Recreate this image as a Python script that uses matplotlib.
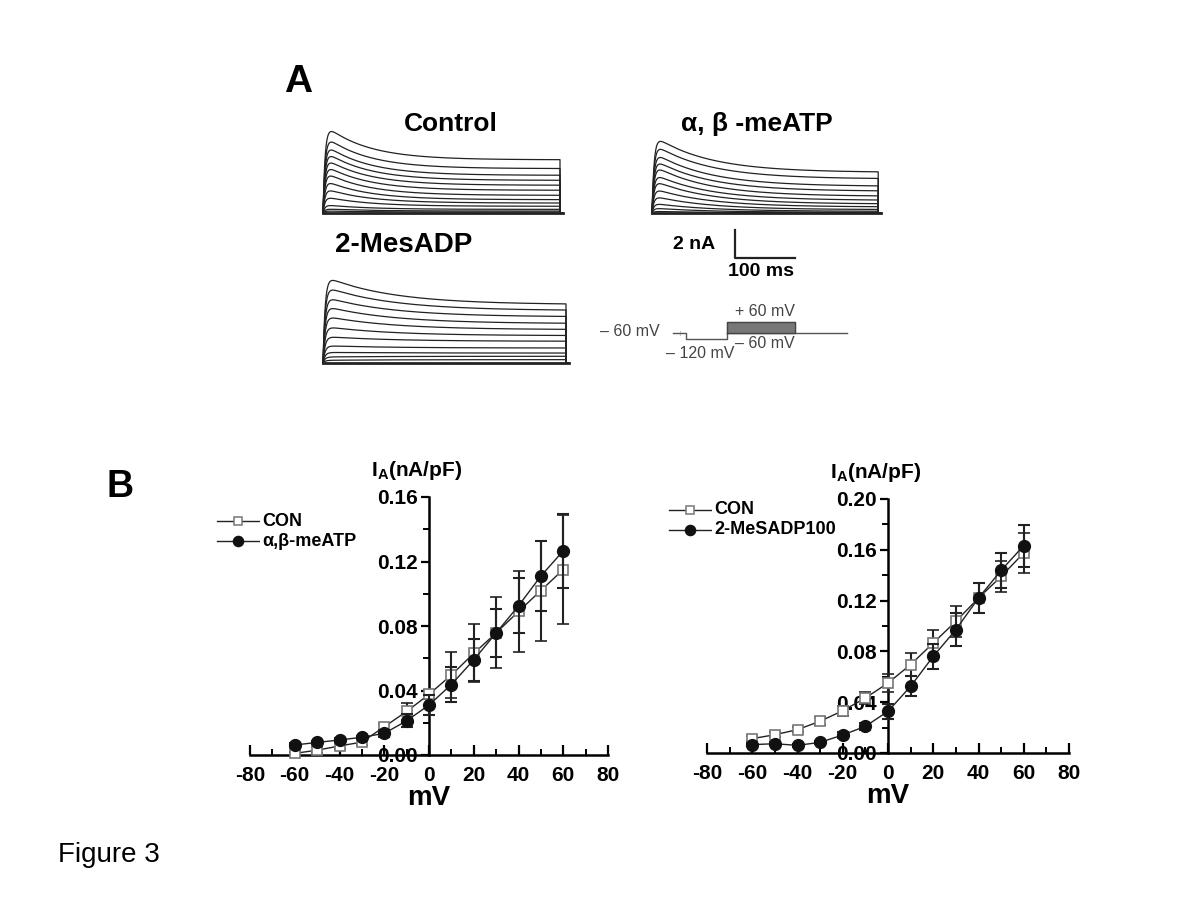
import numpy as np
import matplotlib
matplotlib.use("Agg")
import matplotlib.pyplot as plt
from matplotlib.ticker import MultipleLocator, FormatStrFormatter

plt.rcParams['font.family'] = ['Liberation Sans', 'DejaVu Sans']
plt.rcParams['axes.unicode_minus'] = False

# ---------------- Data ----------------
# Panel A: peak and steady-state amplitudes (nA) of each current trace
ctrl_peak = [6.4, 5.6, 5.0, 4.5, 4.0, 3.5, 3.0, 2.4, 1.8, 1.2, 0.6, 0.3, 0.15]
ctrl_steady = [3.8, 3.17, 2.69, 2.33, 1.98, 1.62, 1.26, 0.95, 0.71, 0.48, 0.26, 0.14, 0.07]
meatp_peak = [5.6, 5.0, 4.4, 3.9, 3.45, 2.86, 2.38, 1.79, 1.24, 0.71, 0.36, 0.12]
meatp_steady = [2.9, 2.43, 1.9, 1.55, 1.19, 0.9, 0.64, 0.43, 0.24, 0.12, 0.05, 0.02]
mesadp_peak = [6.24, 5.5, 4.76, 4.1, 3.38, 2.62, 1.9, 1.24, 0.76, 0.43, 0.19]
mesadp_steady = [4.17, 3.74, 3.29, 2.81, 2.38, 1.95, 1.55, 1.07, 0.71, 0.48, 0.24]

# Voltage protocol (ms, mV)
prot_t = [0, 19, 19, 80, 80, 258]
prot_v = [-60, -60, -120, -120, -60, -60]
step_t = [80, 180]
step_levels = [-60, -50, -40, -30, -20, -10, 0, 10, 20, 30, 40, 50, 60]

# Panel B: I-V data
mv = [-60, -50, -40, -30, -20, -10, 0, 10, 20, 30, 40, 50, 60]
con1 = [0.001, 0.003, 0.0056, 0.008, 0.0175, 0.027, 0.0376, 0.0496, 0.063, 0.0757, 0.089, 0.102, 0.115]
con1_err = [0.001, 0.002, 0.002, 0.002, 0.002, 0.005, 0.003, 0.0145, 0.018, 0.022, 0.025, 0.031, 0.034]
meatp = [0.0062, 0.0078, 0.0093, 0.011, 0.0134, 0.0212, 0.031, 0.0437, 0.059, 0.0757, 0.0925, 0.111, 0.1266]
meatp_err = [0.001, 0.001, 0.001, 0.001, 0.002, 0.004, 0.006, 0.011, 0.013, 0.015, 0.017, 0.022, 0.023]

con2 = [0.0113, 0.0144, 0.0184, 0.025, 0.0333, 0.0433, 0.0551, 0.0696, 0.0866, 0.1037, 0.122, 0.139, 0.1575]
con2_err = [0.002, 0.002, 0.002, 0.003, 0.004, 0.005, 0.007, 0.009, 0.010, 0.012, 0.012, 0.012, 0.016]
mesadp = [0.0066, 0.0073, 0.006, 0.0084, 0.0142, 0.021, 0.0328, 0.0525, 0.0761, 0.0971, 0.122, 0.1438, 0.1633]
mesadp_err = [0.001, 0.001, 0.001, 0.001, 0.002, 0.003, 0.006, 0.008, 0.010, 0.013, 0.012, 0.014, 0.0165]

W, H = 1200, 900
fig = plt.figure(figsize=(12, 9), dpi=100)


def ax_px(x0, y0, x1, y1):
    return fig.add_axes([x0 / W, 1 - y1 / H, (x1 - x0) / W, (y1 - y0) / H])


def ftext(x, y, s, **kw):
    fig.text(x / W, 1 - y / H, s, **kw)


PX_PER_MS = 0.6
PX_PER_NA = 14.0


def trace_panel(x_start, y_base, dur, peaks, steadies, tau):
    left, right = x_start - 6, x_start + dur * PX_PER_MS + 12
    top, bottom = y_base - 100, y_base + 8
    ax = ax_px(left, top, right, bottom)
    ax.set_xlim(-(x_start - left) / PX_PER_MS, (right - x_start) / PX_PER_MS)
    ax.set_ylim(-(bottom - y_base) / PX_PER_NA, (y_base - top) / PX_PER_NA)
    ax.axis('off')
    t = np.linspace(0, dur, 600)
    for pk, ss in zip(peaks, steadies):
        rise = 1 - np.exp(-t / 3.5)
        i = (ss + (pk - ss) * np.exp(-t / tau)) * rise
        tt = np.concatenate([[0], t, [dur, dur + 4]])
        ii = np.concatenate([[0], i, [0, 0]])
        ax.plot(tt, ii, color='#222222', lw=0.9)
    ax.plot([0, dur + 5], [0, 0], color='#222222', lw=2.0)
    return ax


# Panel A traces
trace_panel(323, 213, 395, ctrl_peak, ctrl_steady, 70)
trace_panel(652, 213, 377, meatp_peak, meatp_steady, 90)
trace_panel(323, 363, 405, mesadp_peak, mesadp_steady, 110)

ftext(298, 82, 'A', fontsize=28, fontweight='bold', ha='center', va='center')
ftext(451, 124, 'Control', fontsize=19, fontweight='bold', ha='center', va='center')
ftext(757, 124, 'α, β -meATP', fontsize=19, fontweight='bold', ha='center', va='center')
ftext(404, 245, '2-MesADP', fontsize=20, fontweight='bold', ha='center', va='center')

# Scale bar
sb = ax_px(690, 220, 820, 285)
sb.set_xlim(690, 820)
sb.set_ylim(285, 220)
sb.axis('off')
sb.plot([735, 735, 795], [230, 258, 258], color='#222222', lw=1.6)
ftext(694, 245, '2 nA', fontsize=14, fontweight='bold', ha='center', va='center')
ftext(761, 272, '100 ms', fontsize=14, fontweight='bold', ha='center', va='center')

# Voltage protocol
pax = ax_px(660, 305, 860, 360)
PX_PER_MS_P = 0.675
pax.set_xlim(-(673 - 660) / PX_PER_MS_P, (860 - 673) / PX_PER_MS_P)
pax.set_ylim(-60 - (360 - 333) * 10, -60 + (333 - 305) * 10)
pax.axis('off')
pax.plot(prot_t, prot_v, color='#555555', lw=1.0)
for lvl in step_levels:
    y = -60 + (lvl + 60) * (110 / 120)
    pax.plot(step_t, [y, y], color='#777777', lw=0.8)
pax.fill_between(step_t, -60, -60 + 110, color='#5f5f5f', lw=0)
pax.plot([80, 180, 180, 80, 80], [-60, -60, 50, 50, -60], color='#444444', lw=1.0)
pax.plot([10, 10], [-40, -80], color='#999999', lw=0.8, ls=':')
ftext(630, 332, '– 60 mV', fontsize=11.5, color='#444444', ha='center', va='center')
ftext(765, 311, '+ 60 mV', fontsize=11.5, color='#444444', ha='center', va='center')
ftext(765, 343, '– 60 mV', fontsize=11.5, color='#444444', ha='center', va='center')
ftext(700, 354, '– 120 mV', fontsize=11.5, color='#444444', ha='center', va='center')

ftext(120, 487, 'B', fontsize=27, fontweight='bold', ha='center', va='center')
ftext(109, 855, 'Figure 3', fontsize=20, ha='center', va='center')


def iv_panel(box, ymax, ystep, yminor, c, ce, t, te, lab2, leg_xy):
    ax = ax_px(*box)
    ax.set_xlim(-80, 80)
    ax.set_ylim(0, ymax)
    for s in ['top', 'right']:
        ax.spines[s].set_visible(False)
    ax.spines['left'].set_position(('data', 0))
    ax.spines['left'].set_linewidth(1.8)
    ax.spines['bottom'].set_linewidth(1.8)
    ax.xaxis.set_major_locator(MultipleLocator(20))
    ax.xaxis.set_minor_locator(MultipleLocator(10))
    ax.yaxis.set_major_locator(MultipleLocator(ystep))
    ax.yaxis.set_minor_locator(MultipleLocator(yminor))
    ax.yaxis.set_major_formatter(FormatStrFormatter('%.2f'))
    ax.tick_params(axis='x', which='major', direction='in', length=7, width=1.6, labelsize=15, pad=8)
    ax.tick_params(axis='x', which='minor', direction='in', length=4, width=1.4)
    ax.tick_params(axis='y', which='major', direction='out', length=6, width=1.6, labelsize=15, pad=2)
    ax.tick_params(axis='y', which='minor', direction='out', length=4, width=1.4)
    for lbl in ax.get_xticklabels() + ax.get_yticklabels():
        lbl.set_fontweight('bold')
    ax.patch.set_alpha(0)
    ax.errorbar(mv, c, yerr=ce, color='#222222', lw=1.0, elinewidth=1.5, capsize=4, capthick=1.5,
                marker='s', ms=7, mfc='white', mec='#777777', mew=1.2, clip_on=False, zorder=3)
    ax.errorbar(mv, t, yerr=te, color='#222222', lw=1.0, elinewidth=1.5, capsize=4, capthick=1.5,
                marker='o', ms=8.5, mfc='#111111', mec='#111111', clip_on=False, zorder=4)
    ax.set_xlabel('mV', fontsize=20, fontweight='bold', labelpad=0)
    ax.annotate(r'I$_\mathregular{A}$(nA/pF)', xy=(0, ymax), xycoords='data',
                xytext=(-9, 11), textcoords='offset points', fontsize=15, fontweight='bold',
                ha='center', va='bottom')
    # legend
    lx, ly = leg_xy
    for k, (lab, m, mfc, mec, ms) in enumerate([('CON', 's', 'white', '#777777', 7),
                                               (lab2, 'o', '#111111', '#111111', 8.5)]):
        la = ax_px(lx, ly + k * 20 - 9, lx + 44, ly + k * 20 + 9)
        la.set_xlim(0, 1)
        la.set_ylim(-1, 1)
        la.axis('off')
        la.plot([0.02, 0.98], [0, 0], color='#222222', lw=1.0)
        la.plot([0.5], [0], marker=m, ms=ms * 0.85, mfc=mfc, mec=mec, mew=1.1)
        ftext(lx + 46, ly + k * 20, lab, fontsize=13, fontweight='bold', ha='left', va='center')
    return ax


iv_panel((250, 497, 608, 755), 0.16, 0.04, 0.02, con1, con1_err, meatp, meatp_err,
         'α,β-meATP', (216, 521))
iv_panel((707, 499, 1069, 753), 0.20, 0.04, 0.02, con2, con2_err, mesadp, mesadp_err,
         '2-MeSADP100', (668, 510))

fig.savefig('out.png', dpi=100)
